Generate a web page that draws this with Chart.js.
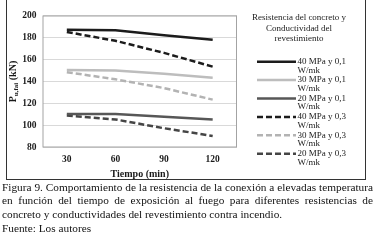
<!DOCTYPE html>
<html>
<head>
<meta charset="utf-8">
<script src="https://cdn.jsdelivr.net/npm/chart.js@4.4.1/dist/chart.umd.min.js"></script>
<style>
    body { margin: 0; width: 377px; height: 241px; background: #fff; overflow: hidden; position: relative; }
    #box { position: absolute; left: 6px; top: -1px; width: 360px; height: 181px; border: 1px solid #333; box-sizing: border-box; }
    #c { position: absolute; left: 0; top: 0; }
    #cap { position: absolute; left: 2px; top: 180.5px; width: 371px; font-family: "Liberation Serif", serif; font-size: 11.3px; line-height: 13.7px; color: #111; }
    #cap div { white-space: nowrap; }
    #cap .j { text-align: justify; text-align-last: justify; }
</style>
</head>
<body>
<div id="box"></div>
<canvas id="c" width="377" height="185"></canvas>
<div id="cap">
    <div class="j">Figura 9. Comportamiento de la resistencia de la conexión a elevadas temperatura</div>
    <div class="j">en función del tiempo de exposición al fuego para diferentes resistencias de</div>
    <div>concreto y conductividades del revestimiento contra incendio.</div>
    <div>Fuente: Los autores</div>
</div>
<script>
const tiempos = ['30', '60', '90', '120'];
const yTicks = [80, 100, 120, 140, 160, 180, 200];

const r40k01 = [187, 186.5, 182, 178];
const r30k01 = [150.5, 150, 147, 143.5];
const r20k01 = [110.5, 110.5, 108, 105.5];
const r40k03 = [185, 177, 166, 153.5];
const r30k03 = [148.5, 142, 134, 123.5];
const r20k03 = [109, 105.5, 97.5, 90.5];

const nombres = ['40 MPa y 0,1', '30 MPa y 0,1', '20 MPa y 0,1', '40 MPa y 0,3', '30 MPa y 0,3', '20 MPa y 0,3'];
const unidad = 'W/mk';
const tituloLeyenda = ['Resistencia del concreto y', 'Conductividad del', 'revestimiento'];

const serif = '"Liberation Serif", "Times New Roman", serif';

function serie(label, data, color, dashed) {
    return {
        label: label,
        data: data,
        borderColor: color,
        backgroundColor: color,
        borderWidth: 2.5,
        borderDash: dashed ? [6, 3] : [],
        pointRadius: 0,
        tension: 0,
        fill: false,
    };
}

const extras = {
    id: 'extras',
    beforeDatasetsDraw(chart) {
        const { ctx, chartArea: a } = chart;
        ctx.save();
        ctx.strokeStyle = '#a3a3a3';
        ctx.lineWidth = 1;
        ctx.strokeRect(a.left + 0.5, a.top + 0.5, a.right - a.left - 1, a.bottom - a.top - 1);
        ctx.restore();
    },
    afterDraw(chart) {
        const { ctx, chartArea: a } = chart;
        ctx.save();
        ctx.fillStyle = '#1a1a1a';

        // eje x
        ctx.font = 'bold 10px ' + serif;
        ctx.textAlign = 'center';
        ctx.textBaseline = 'middle';
        ctx.fillText('Tiempo (min)', (a.left + a.right) / 2, 174);

        // eje y, con subíndice
        ctx.save();
        ctx.translate(12.5, (a.top + a.bottom) / 2);
        ctx.rotate(-Math.PI / 2);
        ctx.textAlign = 'left';
        ctx.textBaseline = 'alphabetic';
        const p = 'P', sub = 'u,fai', kn = ' (kN)';
        ctx.font = 'bold 10px ' + serif;
        const wP = ctx.measureText(p).width, wK = ctx.measureText(kn).width;
        ctx.font = 'bold 7px ' + serif;
        const wS = ctx.measureText(sub).width;
        let x = -(wP + wS + wK) / 2;
        ctx.font = 'bold 10px ' + serif;
        ctx.fillText(p, x, 3.5);
        x += wP;
        ctx.font = 'bold 7px ' + serif;
        ctx.fillText(sub, x, 5.5);
        x += wS;
        ctx.font = 'bold 10px ' + serif;
        ctx.fillText(kn, x, 3.5);
        ctx.restore();

        // leyenda
        ctx.font = '9px ' + serif;
        ctx.textAlign = 'center';
        ctx.textBaseline = 'middle';
        tituloLeyenda.forEach((t, i) => ctx.fillText(t, 299, 17.5 + i * 10.8));

        ctx.textAlign = 'left';
        chart.data.datasets.forEach((ds, i) => {
            const y = 61.7 + i * 18.4;
            ctx.save();
            ctx.strokeStyle = ds.borderColor;
            ctx.lineWidth = 2.5;
            ctx.setLineDash(ds.borderDash);
            ctx.beginPath();
            ctx.moveTo(257, y);
            ctx.lineTo(296, y);
            ctx.stroke();
            ctx.restore();
            ctx.fillText(ds.label, 297.5, y);
            ctx.fillText(unidad, 297.5, y + 8.5);
        });
        ctx.restore();
    }
};

new Chart(document.getElementById('c'), {
    type: 'line',
    data: {
        labels: tiempos,
        datasets: [
            serie(nombres[0], r40k01, '#1c1c1c', false),
            serie(nombres[1], r30k01, '#bdbdbd', false),
            serie(nombres[2], r20k01, '#575757', false),
            serie(nombres[3], r40k03, '#1c1c1c', true),
            serie(nombres[4], r30k03, '#b3b3b3', true),
            serie(nombres[5], r20k03, '#454545', true),
        ]
    },
    options: {
        responsive: false,
        animation: false,
        layout: { padding: { left: 0, right: 140, top: 15.5, bottom: 0 } },
        plugins: { legend: { display: false }, tooltip: { enabled: false } },
        scales: {
            x: {
                type: 'category',
                offset: true,
                grid: { display: false, drawTicks: false },
                border: { display: false },
                ticks: { color: '#1a1a1a', padding: 6, font: { family: serif, size: 9.5, weight: 'bold' } },
                afterFit(scale) { scale.height = 37.5; }
            },
            y: {
                min: 80,
                max: 200,
                afterBuildTicks(scale) { scale.ticks = yTicks.map(v => ({ value: v })); },
                grid: { color: '#d9d9d9', lineWidth: 1, drawTicks: false },
                border: { display: false },
                ticks: { color: '#1a1a1a', padding: 6, font: { family: serif, size: 9.5, weight: 'bold' } },
                afterFit(scale) { scale.width = 42.5; }
            }
        }
    },
    plugins: [extras]
});
</script>
</body>
</html>
